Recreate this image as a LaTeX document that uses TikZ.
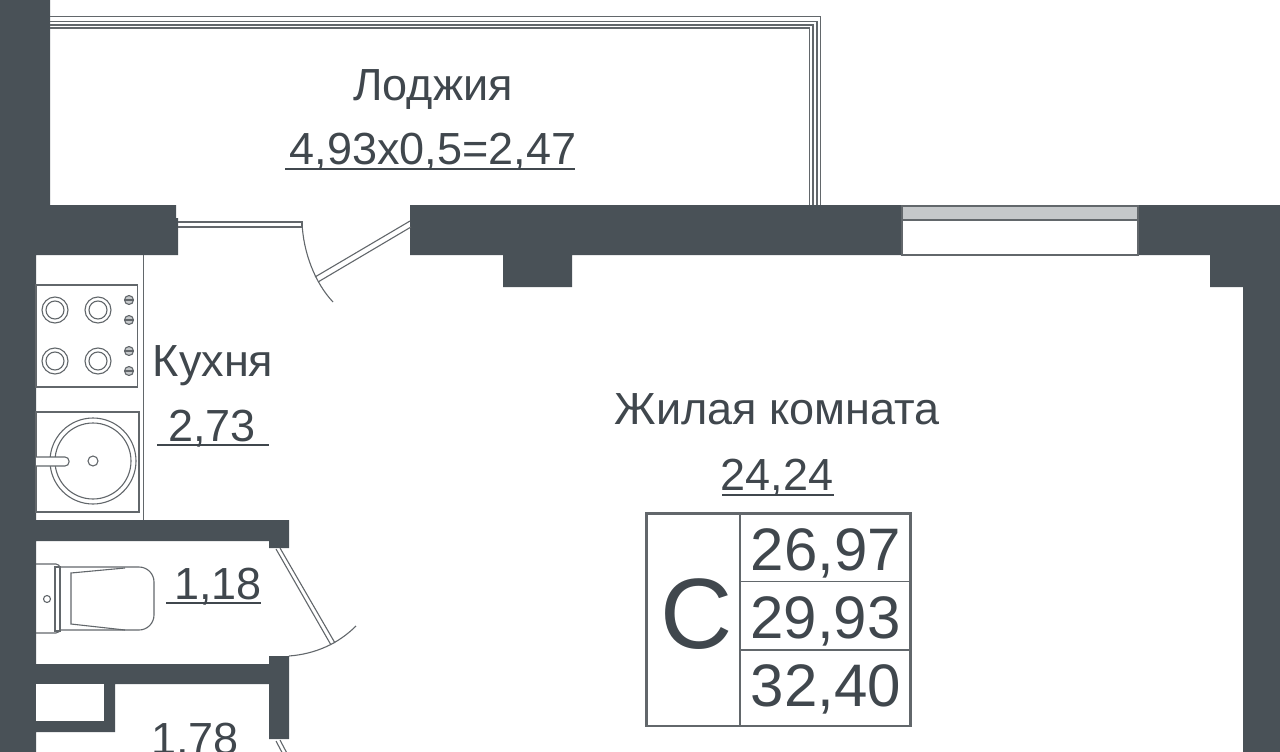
\documentclass[tikz,border=0pt]{standalone}
\usepackage{fontspec}
\setmainfont{Liberation Sans}
\definecolor{wall}{HTML}{495157}
\definecolor{ink}{HTML}{40474D}
\definecolor{thin}{HTML}{62676B}
\definecolor{glass}{HTML}{C5C8CA}
\begin{document}
\begin{tikzpicture}[x=1pt,y=-1pt,line join=miter]
	\tikzstyle{wallfill}=[fill=wall,draw=none]
	\tikzstyle{plan}=[draw=thin,line width=1.1pt]
	\tikzstyle{label}=[text=ink,inner sep=0pt,anchor=base]
	\useasboundingbox (0,0) rectangle (1280,752);
	\clip (0,0) rectangle (1280,752);
	% walls
	\fill[wallfill] (0,0) -- (50,0) -- (50,205) -- (176,205) -- (176,218) -- (178,218) -- (178,255) -- (36,255) -- (36,520) -- (289,520) -- (289,548) -- (269,548) -- (269,541) -- (36,541) -- (36,664) -- (269,664) -- (269,656) -- (289,656) -- (289,739) -- (269,739) -- (269,684) -- (115,684) -- (115,732) -- (36,732) -- (36,752) -- (0,752) -- cycle;
	\fill[white] (36,684) rectangle (104,721);
	\fill[wallfill] (410,205) -- (902,205) -- (902,255) -- (572,255) -- (572,287) -- (503,287) -- (503,255) -- (410,255) -- cycle;
	\fill[wallfill] (1138,205) -- (1280,205) -- (1280,752) -- (1243,752) -- (1243,287) -- (1210,287) -- (1210,255) -- (1138,255) -- cycle;
	% window
	\draw[plan,fill=white] (902,206) rectangle (1138,255);
	\draw[plan,fill=glass] (902,206) rectangle (1138,220);
	% balcony rail
	\foreach \r/\t in {820.5/16.5,817/21.5,813/25,809.5/28} {\draw[plan] (50,\t) -- (\r,\t) -- (\r,205);}
	% doors
	\draw[plan] (178,222) -- (302,222) -- (302,227) -- (178,227);
	\draw[plan] (302,222) .. controls (303,252) and (315,283) .. (333,302);
	\draw[plan] (315,277) -- (410,221);
	\draw[plan] (318,282) -- (411,227);
	\draw[plan] (276,549) -- (331,645);
	\draw[plan] (280,548) -- (335,643);
	\draw[plan] (289,656) .. controls (315,654) and (338,644) .. (356,626);
	\draw[plan] (276,741) -- (286,760);
	\draw[plan] (280,740) -- (290,759);
	% kitchen
	\draw[plan] (143.5,255) -- (143.5,520);
	\draw[plan] (36,285) rectangle (137.5,387);
	\foreach \x/\y in {55/310,98/310,55/361,98/361} {\draw[plan] (\x,\y) circle[radius=13pt] (\x,\y) circle[radius=9pt];}
	\foreach \y in {300,320,351,371} {\draw[plan,fill=glass] (129,\y) circle[radius=4.5pt]; \draw[plan] (124.5,\y) -- (133.5,\y);}
	\draw[plan] (36,412) rectangle (139,512);
	\draw[plan] (93,461) circle[radius=43pt] (93,461) circle[radius=38pt] (93,461) circle[radius=5pt];
	\draw[plan,fill=white,rounded corners=4pt] (36,457) -- (69,457) -- (69,466) -- (36,466);
	% toilet
	\draw[plan,rounded corners=4pt] (36,564) -- (60,564) -- (60,633) -- (36,633);
	\draw[plan] (55,567) rectangle (60,631);
	\draw[plan,rounded corners=15pt] (60,567) -- (154,567) -- (154,630) -- (60,630);
	\draw[plan] (125,568) -- (71,573) -- (71,624) -- (125,630);
	\draw[plan] (47,599) circle[radius=3.5pt];
	% labels
	\foreach \n/\x/\y/\s/\t in {loggia/433/100.5/45/Лоджия, loggiaarea/433/164/45/{4,93x0,5=2,47}, kitchen/213/376/45/Кухня, kitchenarea/212/441/45/{2,73}, room/777/424/45/Жилая комната, roomarea/777/490.5/45/{24,24}, bath/218/599.5/45/{1,18}, hall/195/754/45/{1,78}, klass/696.5/648/100/C, priceone/826/570/60/{26,97}, pricetwo/825.5/638/60/{29,93}, pricethree/826/706/60/{32,40}} {\node[label,font=\fontsize{\s}{\s}\selectfont] (\n) at (\x,\y) {\t};}
	% underlines
	\foreach \a/\b/\y in {285/575/169,157/269/445,722/834/495,166/261/603} {\draw[draw=ink,line width=1.6pt] (\a,\y) -- (\b,\y);}
	% table
	\draw[draw=thin,line width=2.5pt] (646.5,513.5) rectangle (910.5,726);
	\draw[draw=thin,line width=1.2pt] (740,513.5) -- (740,726) (740,581.5) -- (910.5,581.5) (740,650) -- (910.5,650);
\end{tikzpicture}
\end{document}
